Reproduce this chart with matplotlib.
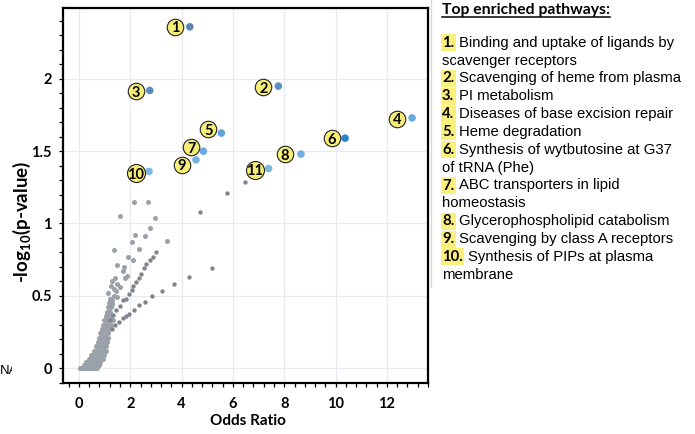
import matplotlib.pyplot as plt
from matplotlib.ticker import MultipleLocator
from matplotlib.lines import Line2D
from matplotlib.transforms import Bbox, TransformedBbox, offset_copy

# top pathways (blue points)
top_or = [4.32, 7.77, 2.76, 12.98, 5.55, 10.37, 4.85, 8.65, 4.56, 2.73, 7.39]
top_p = [2.36, 1.95, 1.92, 1.73, 1.625, 1.59, 1.50, 1.48, 1.44, 1.36, 1.38]
top_labels = ['1', '2', '3', '4', '5', '6', '7', '8', '9', '10', '11']

# other pathways (grey points)
grey_or = [0.05, 0.10, 0.15, 0.20, 0.25, 0.30, 0.35, 0.40, 0.45, 0.50, 0.55, 0.60, 0.65, 0.70,
           0.18, 0.25, 0.32, 0.40, 0.48, 0.56, 0.64, 0.72, 0.78,
           0.28, 0.36, 0.44, 0.52, 0.60, 0.68, 0.76, 0.84,
           0.38, 0.46, 0.54, 0.62, 0.70, 0.78, 0.86, 0.92,
           0.48, 0.56, 0.64, 0.72, 0.80, 0.88, 0.96,
           0.60, 0.68, 0.76, 0.84, 0.92, 1.00, 1.05,
           0.68, 0.75, 0.82, 0.90, 0.98, 1.05,
           0.74, 0.81, 0.88, 0.95, 1.02, 1.08,
           0.79, 0.86, 0.93, 1.00, 1.07, 1.12,
           0.84, 0.91, 0.98, 1.05, 1.12,
           0.89, 0.96, 1.03, 1.10, 1.17,
           0.94, 1.01, 1.08, 1.15, 1.24,
           0.99, 1.06, 1.13, 1.22, 1.32,
           1.04, 1.10, 1.17, 1.26,
           1.08, 1.14, 1.20,
           1.12, 1.18, 1.24,
           1.16, 1.22, 1.28,
           1.20, 1.26,
           1.59, 2.14, 2.71, 2.97, 2.76, 2.17, 2.56, 2.08, 3.43, 1.36, 2.33,
           1.90, 2.12, 1.49, 1.76, 1.71, 1.86, 1.80, 1.28, 1.50, 1.38, 1.45,
           1.27, 1.29, 1.49, 1.35, 1.20, 1.10, 1.12, 1.25, 1.62, 1.40]
grey_p = [0.00, 0.00, 0.00, 0.00, 0.00, 0.00, 0.00, 0.00, 0.00, 0.00, 0.00, 0.00, 0.00, 0.00,
          0.02, 0.02, 0.02, 0.02, 0.02, 0.02, 0.02, 0.02, 0.02,
          0.04, 0.04, 0.04, 0.04, 0.04, 0.04, 0.04, 0.04,
          0.06, 0.06, 0.06, 0.06, 0.06, 0.06, 0.06, 0.06,
          0.09, 0.09, 0.09, 0.09, 0.09, 0.09, 0.09,
          0.12, 0.12, 0.12, 0.12, 0.12, 0.12, 0.12,
          0.15, 0.15, 0.15, 0.15, 0.15, 0.15,
          0.18, 0.18, 0.18, 0.18, 0.18, 0.18,
          0.21, 0.21, 0.21, 0.21, 0.21, 0.21,
          0.24, 0.24, 0.24, 0.24, 0.24,
          0.27, 0.27, 0.27, 0.27, 0.27,
          0.30, 0.30, 0.30, 0.30, 0.30,
          0.33, 0.33, 0.33, 0.33, 0.33,
          0.36, 0.36, 0.36, 0.36,
          0.39, 0.39, 0.39,
          0.42, 0.42, 0.42,
          0.45, 0.45, 0.45,
          0.48, 0.48,
          1.05, 1.15, 1.15, 1.04, 0.97, 0.92, 0.91, 0.87, 0.88, 0.82, 0.825,
          0.77, 0.75, 0.71, 0.70, 0.67, 0.64, 0.62, 0.60, 0.58, 0.55, 0.53,
          0.47, 0.44, 0.49, 0.50, 0.43, 0.38, 0.52, 0.57, 0.56, 0.62]

# darker grey points lying on the two straight runs and the far ones
dark_or = [1.27, 1.40, 1.55, 1.70, 1.85, 1.95, 2.14, 2.34, 2.56, 2.86, 3.22, 3.69, 4.30, 5.17,
           1.20, 1.33, 1.46, 1.59, 1.72, 1.85, 1.95, 2.05, 2.11, 2.24, 2.34, 2.43, 2.54,
           2.63, 2.76, 2.89, 2.99,
           4.70, 5.75, 6.47]
dark_p = [0.27, 0.30, 0.32, 0.345, 0.36, 0.377, 0.405, 0.435, 0.46, 0.50, 0.535, 0.58, 0.63, 0.69,
          0.33, 0.365, 0.40, 0.43, 0.47, 0.48, 0.51, 0.54, 0.57, 0.595, 0.62, 0.65, 0.69,
          0.72, 0.745, 0.77, 0.80,
          1.08, 1.21, 1.29]

pathways = [
    ['Binding and uptake of ligands by', 'scavenger receptors'],
    ['Scavenging of heme from plasma'],
    ['PI metabolism'],
    ['Diseases of base excision repair'],
    ['Heme degradation'],
    ['Synthesis of wytbutosine at G37', 'of tRNA (Phe)'],
    ['ABC transporters in lipid', 'homeostasis'],
    ['Glycerophospholipid catabolism'],
    ['Scavenging by class A receptors'],
    ['Synthesis of PIPs at plasma', 'membrane'],
]

blue_colors = ['#5b86b4', '#5a8dc2', '#5a8cc0', '#69a9dd', '#62a3db', '#2b84c6',
               '#6aaadf', '#70b0e1', '#74b3e2', '#7bb8e4', '#7ab7e3']
label_offsets = [(-15, 0), (-15, -1), (-14, -1), (-15, -1), (-13, 4), (-13, 0),
                 (-12, 4), (-16, 0), (-14, -5), (-13, -2), (-14, -1)]

plt.rcParams['font.family'] = 'Lato'
plt.rcParams['mathtext.fontset'] = 'custom'
plt.rcParams['mathtext.rm'] = 'Lato:bold'
plt.rcParams['mathtext.default'] = 'rm'

W, H = 695, 434
fig = plt.figure(figsize=(W / 100, H / 100), dpi=100)


def fx(px):
    return px / W


def fy(py):
    return 1 - py / H


ax = fig.add_axes([fx(63), fy(383), fx(428) - fx(63), fy(8) - fy(383)])
ax.set_xlim(-0.62, 13.6)
ax.set_ylim(-0.103, 2.49)

ax.scatter(grey_or, grey_p, s=13, color='#9ba1a8', linewidths=0, zorder=3)
ax.scatter(dark_or, dark_p, s=10, color='#80858c', linewidths=0, zorder=3)
ax.scatter(top_or, top_p, s=30, c=blue_colors, linewidths=0, zorder=4)

# numbered yellow badges next to the top points
for x, y, lab, off in zip(top_or, top_p, top_labels, label_offsets):
    tr = offset_copy(ax.transData, fig=fig, x=off[0], y=off[1], units='dots')
    d = 18 if len(lab) > 1 else 16.5
    ax.scatter([x], [y], s=(d * 0.72) ** 2, transform=tr, color='#f7ee7a',
               edgecolors='#222222', linewidths=0.8, zorder=5)
    ax.text(x, y, lab, transform=tr, ha='center', va='center_baseline',
            fontsize=10.5, fontweight='bold', zorder=6)

ax.set_xticks([0, 2, 4, 6, 8, 10, 12])
ax.set_yticks([0, 0.5, 1, 1.5, 2], labels=['0', '0.5', '1', '1.5', '2'])
ax.xaxis.set_minor_locator(MultipleLocator(0.4))
ax.yaxis.set_minor_locator(MultipleLocator(0.1))
ax.tick_params(which='both', direction='out', length=3, width=0.9, color='black')
ax.tick_params(axis='x', pad=7)
ax.tick_params(axis='y', pad=5)
for lab in ax.get_xticklabels() + ax.get_yticklabels():
    lab.set_fontweight('bold')
    lab.set_fontsize(10.5)
ax.grid(True, which='major', color='#e8eaef', lw=0.9)
ax.set_axisbelow(True)
for sp in ax.spines.values():
    sp.set_linewidth(1.6)
    sp.set_color('black')

fig.text(fx(248), fy(421), 'Odds Ratio', ha='center', va='center',
         fontsize=11, fontweight='bold')
fig.text(fx(22), fy(222), '-log$_{10}$(p-value)', ha='center', va='center',
         rotation=90, fontsize=13.5, fontweight='bold')

na = fig.text(fx(0), fy(371), 'NA', ha='left', va='center', fontsize=9.5,
              family='Liberation Sans')
na.set_clip_box(TransformedBbox(Bbox.from_extents(0, 0, fx(11.5), 1), fig.transFigure))
na.set_clip_on(True)

# right panel
fig.add_artist(Line2D([fx(430.5), fx(430.5)], [fy(0), fy(287)], color='#d8d8d8', lw=1))
title = fig.text(fx(442), fy(10), 'Top enriched pathways:', ha='left', va='center',
                 fontsize=11.3, fontweight='bold')

step = 17.85
row = 0
for i, lines in enumerate(pathways):
    num = '%d.' % (i + 1)
    yb = 41.7 + row * step + 5
    fig.text(fx(442), fy(yb), num, ha='left', va='baseline', fontsize=10.7,
             fontweight='bold',
             bbox=dict(boxstyle='square,pad=0.1', fc='#fcf07c', ec='none'))
    x_rest = 467.5 if i + 1 >= 10 else 459.3
    fig.text(fx(x_rest), fy(yb), lines[0], ha='left', va='baseline', fontsize=10.7,
             family='Liberation Sans')
    row += 1
    for extra in lines[1:]:
        yb = 41.7 + row * step + 5
        fig.text(fx(442), fy(yb), extra, ha='left', va='baseline', fontsize=10.7,
                 family='Liberation Sans')
        row += 1

fig.canvas.draw()
bb = title.get_window_extent()
fig.add_artist(Line2D([bb.x0 / W, bb.x1 / W], [fy(17), fy(17)], color='black', lw=1.1))

fig.savefig('out.png', dpi=100)
